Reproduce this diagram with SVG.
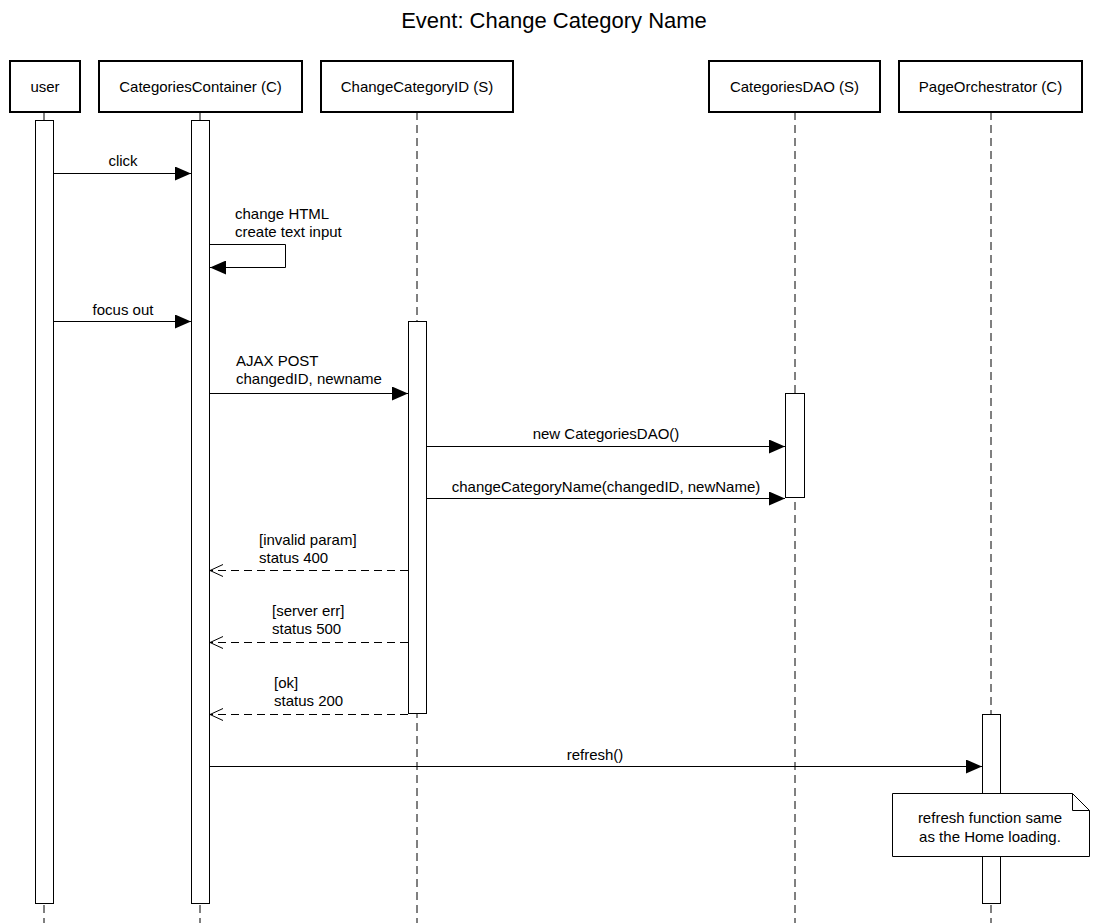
<svg xmlns="http://www.w3.org/2000/svg" width="1108" height="923" viewBox="0 0 1108 923">
<defs>
<style>
text{font-family:"Liberation Sans",Arial,Helvetica,sans-serif;font-size:15px;fill:#000}
.title{font-size:22px}
.hdr{fill:#fff;stroke:#000;stroke-width:2}
.life{stroke:#000;stroke-width:1;stroke-dasharray:8 5;fill:none}
.bar{fill:#fff;stroke:#000;stroke-width:1}
.msg{stroke:#000;stroke-width:1;fill:none}
.ret{stroke:#000;stroke-width:1;fill:none;stroke-dasharray:8 5}
.c{text-anchor:middle}
</style>
<marker id="fa" viewBox="0 0 16 14" refX="16" refY="7" markerWidth="16" markerHeight="14" orient="auto" markerUnits="userSpaceOnUse"><path d="M0,0 L16,7 L0,14 Z" fill="#000"/></marker>
<marker id="oa" viewBox="-1 -1 15 14" refX="13" refY="6" markerWidth="15" markerHeight="14" orient="auto" markerUnits="userSpaceOnUse"><path d="M0,0 L13,6 L0,12" fill="none" stroke="#000" stroke-width="1"/></marker>
</defs>
<rect width="1108" height="923" fill="#fff"/>
<text class="title c" x="554" y="28">Event: Change Category Name</text>

<g id="user">
<line class="life" x1="44" y1="112" x2="44" y2="923"/>
<rect class="hdr" x="10" y="61" width="70" height="51"/>
<text class="c" x="45" y="92">user</text>
<rect class="bar" x="35.5" y="120.5" width="18" height="783"/>
</g>
<g id="categoriesContainer">
<line class="life" x1="200" y1="112" x2="200" y2="923"/>
<rect class="hdr" x="99" y="61" width="203" height="51"/>
<text class="c" x="200.5" y="92">CategoriesContainer (C)</text>
<rect class="bar" x="191.5" y="120.5" width="18" height="783"/>
</g>
<g id="changeCategoryID">
<line class="life" x1="417" y1="112" x2="417" y2="923"/>
<rect class="hdr" x="321" y="61" width="192" height="51"/>
<text class="c" x="417" y="92">ChangeCategoryID (S)</text>
<rect class="bar" x="408.5" y="321.5" width="18" height="392"/>
</g>
<g id="categoriesDAO">
<line class="life" x1="795" y1="112" x2="795" y2="923"/>
<rect class="hdr" x="709" y="61" width="171" height="51"/>
<text class="c" x="794.5" y="92">CategoriesDAO (S)</text>
<rect class="bar" x="785.5" y="393.5" width="19" height="104"/>
</g>
<g id="pageOrchestrator">
<line class="life" x1="991" y1="112" x2="991" y2="923"/>
<rect class="hdr" x="899" y="61" width="183" height="51"/>
<text class="c" x="990.5" y="92">PageOrchestrator (C)</text>
<rect class="bar" x="982.5" y="714.5" width="18" height="189"/>
</g>

<g id="connectors">
<line class="msg" x1="54" y1="173.5" x2="191" y2="173.5" marker-end="url(#fa)"/>
<text class="c" x="123" y="166">click</text>

<path class="msg" d="M210,244.5 H285.5 V267.5 H210" marker-end="url(#fa)"/>
<text x="235" y="219">change HTML</text>
<text x="235" y="237">create text input</text>

<line class="msg" x1="54" y1="321.5" x2="191" y2="321.5" marker-end="url(#fa)"/>
<text class="c" x="123" y="315">focus out</text>

<line class="msg" x1="210" y1="393.5" x2="408" y2="393.5" marker-end="url(#fa)"/>
<text x="236" y="366">AJAX POST</text>
<text x="236" y="384">changedID, newname</text>

<line class="msg" x1="427" y1="446.5" x2="785" y2="446.5" marker-end="url(#fa)"/>
<text class="c" x="606" y="439">new CategoriesDAO()</text>

<line class="msg" x1="427" y1="498.5" x2="785" y2="498.5" marker-end="url(#fa)"/>
<text class="c" x="606" y="492">changeCategoryName(changedID, newName)</text>

<line class="ret" x1="408" y1="570.5" x2="210" y2="570.5" marker-end="url(#oa)"/>
<text x="259" y="545">[invalid param]</text>
<text x="259" y="563">status 400</text>

<line class="ret" x1="408" y1="642.5" x2="210" y2="642.5" marker-end="url(#oa)"/>
<text x="272" y="616">[server err]</text>
<text x="272" y="634">status 500</text>

<line class="ret" x1="408" y1="714.5" x2="210" y2="714.5" marker-end="url(#oa)"/>
<text x="274" y="688">[ok]</text>
<text x="274" y="706">status 200</text>

<line class="msg" x1="210" y1="766.5" x2="982" y2="766.5" marker-end="url(#fa)"/>
<text class="c" x="595" y="760">refresh()</text>
</g>

<g id="note">
<path d="M892.5,793.5 H1072.5 L1089.5,810.5 V856.5 H892.5 Z" fill="#fff" stroke="#000" stroke-width="1"/>
<path d="M1072.5,793.5 V810.5 H1089.5" fill="none" stroke="#000" stroke-width="1"/>
<text class="c" x="990" y="823">refresh function same</text>
<text class="c" x="990" y="842">as the Home loading.</text>
</g>
</svg>
